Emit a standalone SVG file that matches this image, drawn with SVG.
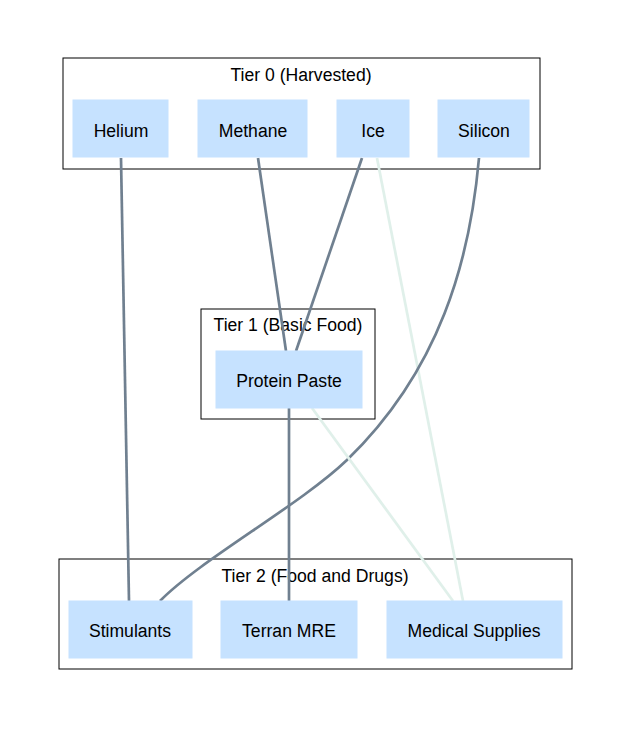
<svg xmlns="http://www.w3.org/2000/svg" width="632" height="729" viewBox="0 0 632 729">
<style>
.cl{fill:#fff;stroke:#000;stroke-width:1}
.n{fill:#c6e2ff;stroke:#c6e2ff}
text{font-family:"Liberation Sans",Arial,sans-serif;font-size:17.6px;text-anchor:middle;fill:#000}
.e{fill:none;stroke:#708090;stroke-width:2.7}
.l{fill:none;stroke:#e0f0ea;stroke-width:2.7}
</style>
<rect width="632" height="729" fill="#fff"/>
<g id="cluster_tier0"><rect class="cl" x="63" y="58" width="477" height="111"/><text x="301" y="81">Tier 0 (Harvested)</text></g>
<g id="cluster_tier1"><rect class="cl" x="201" y="309" width="174" height="110"/><text x="288" y="331">Tier 1 (Basic Food)</text></g>
<g id="cluster_tier2"><rect class="cl" x="59" y="559" width="513" height="110"/><text x="315" y="582">Tier 2 (Food and Drugs)</text></g>
<g id="edges">
<path class="e" d="M121,158 L129,601"/>
<path class="e" d="M258,158 L286,351"/>
<path class="e" d="M362,158 L296,351"/>
<path class="l" d="M377,158 L463,601"/>
<path class="e" d="M479,158 C470,260 440,370 347,460 C300,505 200,560 160,601"/>
<path class="e" d="M289,408 L289,601"/>
<path class="l" d="M312,408 L453,601"/>
</g>
<g id="helium"><rect class="n" x="73" y="100" width="95" height="57"/><text x="121" y="137">Helium</text></g>
<g id="methane"><rect class="n" x="198" y="100" width="109" height="57"/><text x="253" y="137">Methane</text></g>
<g id="ice"><rect class="n" x="337" y="100" width="72" height="57"/><text x="373" y="137">Ice</text></g>
<g id="silicon"><rect class="n" x="438" y="100" width="91" height="57"/><text x="484" y="137">Silicon</text></g>
<g id="protein_paste"><rect class="n" x="216" y="351" width="146" height="57"/><text x="289" y="387">Protein Paste</text></g>
<g id="stimulants"><rect class="n" x="69" y="601" width="123" height="57"/><text x="130" y="637">Stimulants</text></g>
<g id="terran_mre"><rect class="n" x="221" y="601" width="136" height="57"/><text x="289" y="637">Terran MRE</text></g>
<g id="medical_supplies"><rect class="n" x="387" y="601" width="175" height="57"/><text x="474" y="637">Medical Supplies</text></g>
</svg>
